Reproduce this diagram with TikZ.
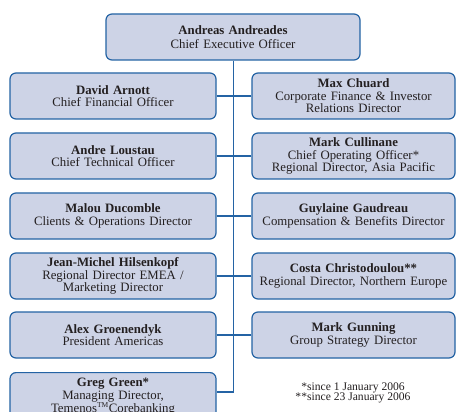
\documentclass[tikz,border=0pt]{standalone}
\usepackage{fontspec}
\setmainfont{Liberation Serif}
\begin{document}
\definecolor{boxfill}{HTML}{CDD3E6}
\definecolor{boxline}{HTML}{2463A4}
\definecolor{txt}{HTML}{231F20}
\begin{tikzpicture}[x=1pt,y=-1pt,
  orgbox/.style={draw=boxline,fill=boxfill,line width=1.2pt,rounded corners=6pt,
    minimum height=46pt,align=center,inner sep=1pt,text=txt,
    font=\fontsize{12.8}{12.6}\selectfont},
  leftbox/.style={orgbox,minimum width=206pt,text width=204pt},
  rightbox/.style={orgbox,minimum width=203pt,text width=201pt},
  conn/.style={draw=boxline,line width=1.2pt},
  note/.style={text=txt,align=center,font=\fontsize{11.6}{10.5}\selectfont}]
\useasboundingbox (0,0) rectangle (456,412);
\clip (0,0) rectangle (456,412);
\fill[white] (0,0) rectangle (456,412);
\node[orgbox,minimum width=254pt,text width=250pt,font=\fontsize{12.8}{14}\selectfont] (ceo) at (233,37) {\textbf{Andreas Andreades}\\Chief Executive Officer};
\node[leftbox] (l1) at (113,96) {\textbf{David Arnott}\\Chief Financial Officer};
\node[leftbox] (l2) at (113,156) {\textbf{Andre Loustau}\\Chief Technical Officer};
\node[leftbox] (l3) at (113,216) {\textbf{Malou Ducomble}\\Clients \& Operations Director};
\node[leftbox] (l4) at (113,276) {\textbf{Jean-Michel Hilsenkopf}\\Regional Director EMEA /\\Marketing Director};
\node[leftbox] (l5) at (113,335) {\textbf{Alex Groenendyk}\\President Americas};
\node[leftbox,minimum height=48pt,anchor=north] (l6) at (113,372) {\textbf{Greg Green*}\\Managing Director,\\Temenos\textsuperscript{\fontsize{7.5}{7.5}\selectfont TM}Corebanking};
\node[rightbox] (r1) at (353.5,96) {\textbf{Max Chuard}\\Corporate Finance \& Investor\\Relations Director};
\node[rightbox] (r2) at (353.5,156) {\textbf{Mark Cullinane}\\Chief Operating Officer*\\Regional Director, Asia Pacific};
\node[rightbox] (r3) at (353.5,216) {\textbf{Guylaine Gaudreau}\\Compensation \& Benefits Director};
\node[rightbox] (r4) at (353.5,276) {\textbf{Costa Christodoulou**}\\Regional Director, Northern Europe};
\node[rightbox] (r5) at (353.5,335) {\textbf{Mark Gunning}\\Group Strategy Director};
\node[note] (fn) at (353,393) {*since 1 January 2006\\**since 23 January 2006};
\coordinate (tb) at (233.5,392);
\draw[conn] (ceo.south -| tb) -- (tb) -- (tb -| l6.east);
\foreach \n in {l1,l2,l3,l4,l5} \draw[conn] (\n.east) -- (\n.east -| tb);
\foreach \n in {r1,r2,r3,r4,r5} \draw[conn] (\n.west) -- (\n.west -| tb);
\end{tikzpicture}
\end{document}
